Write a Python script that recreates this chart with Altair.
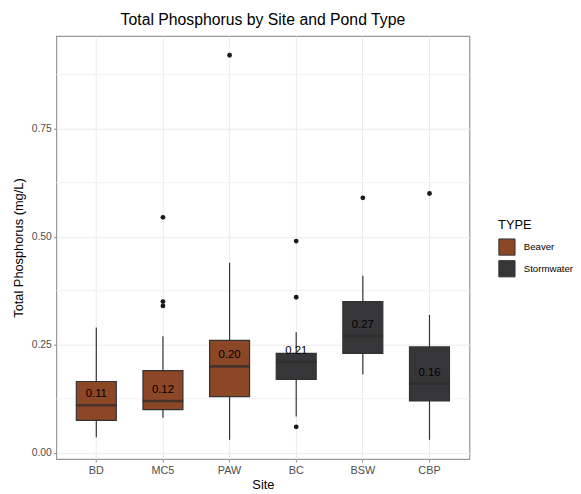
import altair as alt
import pandas as pd

sites = ["BD", "MC5", "PAW", "BC", "BSW", "CBP"]
types = ["Beaver", "Beaver", "Beaver", "Stormwater", "Stormwater", "Stormwater"]
q1 = [0.075, 0.100, 0.130, 0.170, 0.230, 0.120]
median = [0.110, 0.120, 0.200, 0.210, 0.270, 0.160]
q3 = [0.165, 0.190, 0.260, 0.230, 0.350, 0.245]
whisker_low = [0.036, 0.081, 0.030, 0.084, 0.181, 0.030]
whisker_high = [0.290, 0.270, 0.440, 0.279, 0.410, 0.319]
median_labels = ["0.11", "0.12", "0.20", "0.21", "0.27", "0.16"]

outlier_sites = ["MC5", "MC5", "MC5", "PAW", "BC", "BC", "BC", "BSW", "CBP"]
outlier_values = [0.545, 0.350, 0.340, 0.920, 0.490, 0.360, 0.060, 0.590, 0.600]

major_ticks = [0.0, 0.25, 0.5, 0.75]
minor_grid = [0.125, 0.375, 0.625, 0.875]

type_names = ["Beaver", "Stormwater"]
type_colors = ["#8B4726", "#363638"]

box_df = pd.DataFrame({
    "Site": sites, "TYPE": types, "q1": q1, "median": median, "q3": q3,
    "lo": whisker_low, "hi": whisker_high, "label": median_labels,
})
out_df = pd.DataFrame({"Site": outlier_sites, "TP": outlier_values})
minor_df = pd.DataFrame({"v": minor_grid})

FONT = "Liberation Sans"
yscale = alt.Scale(domain=[-0.0145, 0.9645], nice=False, zero=False)
xscale = alt.Scale(paddingInner=0.4, paddingOuter=0.3)

x_enc = alt.X("Site:N", sort=sites, scale=xscale, axis=alt.Axis(
    title="Site", grid=True, gridColor="#EBEBEB", domain=False, labelAngle=0,
    tickColor="#8a8a8a", tickSize=3, labelPadding=3, labelFontSize=11,
    labelColor="#4D4D4D", titleFontSize=13, titleFontWeight="normal",
    titleColor="#000000", titlePadding=3))

y_axis = alt.Axis(
    title="Total Phosphorus (mg/L)", values=major_ticks, format=".2f",
    grid=True, gridColor="#EBEBEB", domain=False, tickColor="#8a8a8a",
    tickSize=3, labelPadding=2, labelFontSize=10.5, labelColor="#4D4D4D",
    titleFontSize=13, titleFontWeight="normal", titleColor="#000000",
    titlePadding=6)

minor = alt.Chart(minor_df).mark_rule(color="#F2F2F2", strokeWidth=1).encode(
    y=alt.Y("v:Q", scale=yscale, axis=y_axis))

whisk = alt.Chart(box_df).mark_rule(color="#333333", strokeWidth=1.2).encode(
    x=x_enc, y=alt.Y("lo:Q", scale=yscale), y2="hi:Q")

boxes = alt.Chart(box_df).mark_bar(stroke="#333333", strokeWidth=1.2, opacity=1).encode(
    x=x_enc, y=alt.Y("q1:Q", scale=yscale), y2="q3:Q",
    fill=alt.Fill("TYPE:N", scale=alt.Scale(domain=type_names, range=type_colors),
                  legend=alt.Legend(title="TYPE", orient="none", legendX=448, legendY=186,
                                    symbolType="square", symbolSize=270,
                                    symbolStrokeColor="#333333", symbolStrokeWidth=1,
                                    titleFontSize=13, titleFontWeight="normal",
                                    titleColor="#000000", labelFontSize=9.8,
                                    labelColor="#000000", rowPadding=0,
                                    titlePadding=6, labelOffset=8)))

meds = alt.Chart(box_df).mark_tick(color="#2b2b2b", thickness=2.6, size=41, orient="horizontal").encode(
    x=x_enc, y=alt.Y("median:Q", scale=yscale))

outs = alt.Chart(out_df).mark_circle(color="#1a1a1a", size=24, opacity=1).encode(
    x=alt.X("Site:N", sort=sites, scale=xscale), y=alt.Y("TP:Q", scale=yscale))

texts = alt.Chart(box_df).mark_text(fontSize=11.5, font=FONT, color="#000000", baseline="middle", dy=-11).encode(
    x=alt.X("Site:N", sort=sites, scale=xscale), y=alt.Y("median:Q", scale=yscale), text="label:N")

chart = alt.layer(minor, whisk, boxes, meds, outs, texts).properties(
    width=419, height=429,
    autosize=alt.AutoSizeParams(type="none"),
    padding={"left": 49, "top": 25, "right": 105, "bottom": 32},
    title=alt.Title("Total Phosphorus by Site and Pond Type", fontSize=16,
                    fontWeight="normal", font=FONT, color="#000000", anchor="middle", offset=8),
).configure(font=FONT).configure_view(stroke="#999999", strokeWidth=1.2)

chart.save("out.html", embed_options={"renderer": "svg", "actions": False})
